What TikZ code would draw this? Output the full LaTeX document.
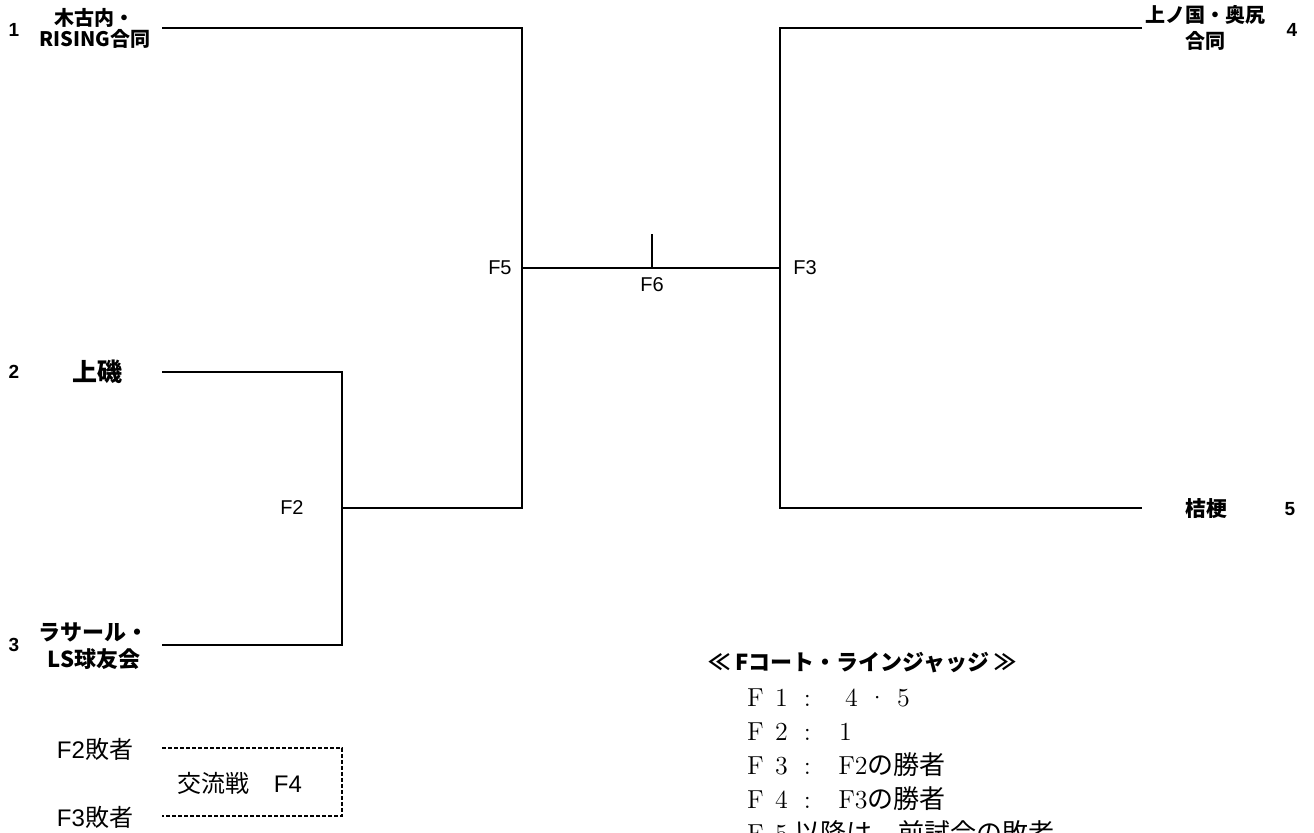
\documentclass[tikz,border=0pt]{standalone}
\usepackage{fontspec}
\setsansfont{Liberation Sans}
\newfontfamily\jp{Noto Sans CJK JP}
\usetikzlibrary{positioning}
\newcommand{\fw}[1]{\makebox[1em]{#1}}

\begin{document}
\begin{tikzpicture}[
	x=0.5pt, y=-0.5pt,
	every node/.style={font=\sffamily, inner sep=0pt},
	team/.style={align=center},
	seed/.style={font=\sffamily\bfseries\fontsize{9.5}{9.5}\selectfont},
	game/.style={font=\sffamily\fontsize{10}{10}\selectfont},
	loser/.style={font=\sffamily\fontsize{12}{12}\selectfont},
	rule/.style={anchor=base west, font=\rmfamily\fontsize{13}{13}\selectfont},
	bracket/.style={line width=1pt},
	dashline/.style={line width=0.75pt, dash pattern=on 2pt off 1pt}
	]
	\useasboundingbox (0,0) rectangle (1314,833);
	
	% Teams
	\node[team, font=\jp\bfseries\fontsize{10}{10.5}\selectfont] (t1) at (95,28) {木古内・\\RISING合同};
	\node[team, font=\jp\bfseries\fontsize{12.5}{12.5}\selectfont] (t2) at (97,372) {上磯};
	\node[team, font=\jp\bfseries\fontsize{11}{13.5}\selectfont] (t3) at (94,646) {ラサール・\\LS球友会};
	\node[team, font=\jp\bfseries\fontsize{10}{13}\selectfont] (t4) at (1205,28) {上ノ国・奥尻\\合同};
	\node[team, font=\jp\bfseries\fontsize{10.5}{10.5}\selectfont] (t5) at (1206,509) {桔梗};
	
	% Seeds
	\node[seed] (n1) at (14,30) {1};
	\node[seed] (n2) at (14,372) {2};
	\node[seed] (n3) at (14,645) {3};
	\node[seed] (n4) at (1292,30) {4};
	\node[seed] (n5) at (1290,509) {5};
	
	% Bracket points
	\coordinate (s1) at (162,28);
	\coordinate (s2) at (162,372);
	\coordinate (s3) at (162,645);
	\coordinate (s4) at (1142,28);
	\coordinate (s5) at (1142,508);
	\coordinate (g2) at (342,508);
	\coordinate (g5) at (522,268);
	\coordinate (g3) at (780,268);
	\coordinate (g6) at (652,268);
	\coordinate (g6top) at (652,234);
	\coordinate (l2) at (162,748);
	\coordinate (l3) at (162,816);
	\coordinate (g4) at (342,782);
	
	% Lines
	\draw[bracket] (s1) -| (g5) |- (g2);
	\draw[bracket] (s2) -| (g2) |- (s3);
	\draw[bracket] (g5) -- (g3);
	\draw[bracket] (g6) -- (g6top);
	\draw[bracket] (s4) -| (g3) |- (s5);
	\draw[dashline] (l2) -| (g4) |- (l3);
	
	% Game labels
	\node[game, left=5pt of g5] (f5) {F5};
	\node[game, right=6.5pt of g3] (f3) {F3};
	\node[game, below=4.5pt of g6] (f6) {F6};
	\node[game, left=19pt of g2] (f2) {F2};
	\node[loser] (lose2) at (95,749) {F2{\jp 敗者}};
	\node[loser] (lose3) at (95,817) {F3{\jp 敗者}};
	\node[loser] (f4) at (240,783) {{\jp 交流戦　}F4};
	
	% Line judges
	\node[font=\jp\bfseries\fontsize{11}{11}\selectfont, anchor=west] (judge) at (708,663) {≪ Fコート・ラインジャッジ ≫};
	\node[rule] (r1) at (742,707) {\fw{F}\fw{1}\fw{:}\hspace{9pt}\fw{4}\fw{\textperiodcentered}\fw{5}};
	\node[rule] (r2) at (742,741) {\fw{F}\fw{2}\fw{:}\hspace{6pt}\fw{1}};
	\node[rule] (r3) at (742,775) {\fw{F}\fw{3}\fw{:}\hspace{9pt}F2{\jp の勝者}};
	\node[rule] (r4) at (742,809) {\fw{F}\fw{4}\fw{:}\hspace{9pt}F3{\jp の勝者}};
	\node[rule] (r5) at (742,843) {\fw{F}\fw{5}{\jp 以降は、前試合の敗者}};
	
\end{tikzpicture}
\end{document}
